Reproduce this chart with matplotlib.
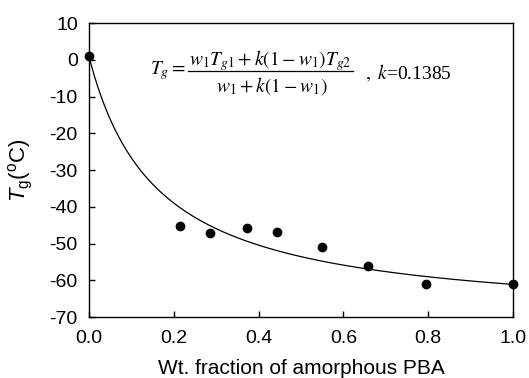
import numpy as np
import matplotlib
matplotlib.use("Agg")
import matplotlib.pyplot as plt
from matplotlib.lines import Line2D

plt.rcParams['font.family'] = ['Liberation Sans', 'DejaVu Sans']
plt.rcParams['mathtext.fontset'] = 'stix'
plt.rcParams['mathtext.rm'] = 'Liberation Sans'
plt.rcParams['mathtext.it'] = 'Liberation Sans:italic'

# Data
w_frac = [0.0, 0.215, 0.286, 0.372, 0.443, 0.55, 0.657, 0.794, 1.0]
tg_vals = [1.0, -45.1, -47.2, -45.7, -46.8, -50.9, -56.2, -60.9, -61.1]

# Gordon-Taylor fit parameters (from the chart's equation)
k = 0.1385
tg1 = -61.1
tg2 = 1.0

xticks = [0.0, 0.2, 0.4, 0.6, 0.8, 1.0]
yticks = [10, 0, -10, -20, -30, -40, -50, -60, -70]

fig = plt.figure(figsize=(5.29, 3.78), dpi=100)
ax = fig.add_axes([0.168, 0.161, 0.802, 0.778])

w = np.linspace(0, 1, 300)
tg_fit = (w * tg1 + k * (1 - w) * tg2) / (w + k * (1 - w))
ax.plot(w, tg_fit, color='black', lw=0.9)
ax.plot(w_frac, tg_vals, 'o', color='black', ms=6, clip_on=False, zorder=5)

ax.set_xlim(0, 1)
ax.set_ylim(-70, 10)
ax.set_xticks(xticks)
ax.set_xticklabels([f"{t:.1f}" for t in xticks])
ax.set_yticks(yticks)
ax.set_yticklabels([str(t) for t in yticks])
ax.tick_params(direction='in', length=4, width=1, labelsize=14)
ax.tick_params(axis='x', pad=9)
ax.tick_params(axis='y', pad=8)
for s in ax.spines.values():
    s.set_linewidth(1)

ax.set_xlabel('Wt. fraction of amorphous PBA', fontsize=15, labelpad=9)
yl = ax.set_ylabel(r'$T_{\rm g}$($^{\rm o}$C)', fontsize=16, labelpad=10)
yl.get_fontproperties().set_math_fontfamily('custom')

# Equation (Gordon-Taylor), drawn as separate pieces
eq_kw = dict(transform=ax.transAxes, fontsize=14)
ax.text(0.144, 0.837, r'$T_g=$', ha='left', va='center', **eq_kw)
ax.text(0.428, 0.874, r'$w_1T_{g1}+k(1-w_1)T_{g2}$', ha='center', va='center', **eq_kw)
ax.add_line(Line2D([0.2335, 0.6226], [0.837, 0.837], transform=ax.transAxes,
                   color='black', lw=0.9))
ax.text(0.431, 0.785, r'$w_1+k(1-w_1)$', ha='center', va='center', **eq_kw)
ax.text(0.651, 0.83, r'$,\ k$=0.1385', ha='left', va='center',
        family='Liberation Serif', **eq_kw)

fig.savefig('out.png', dpi=100)
